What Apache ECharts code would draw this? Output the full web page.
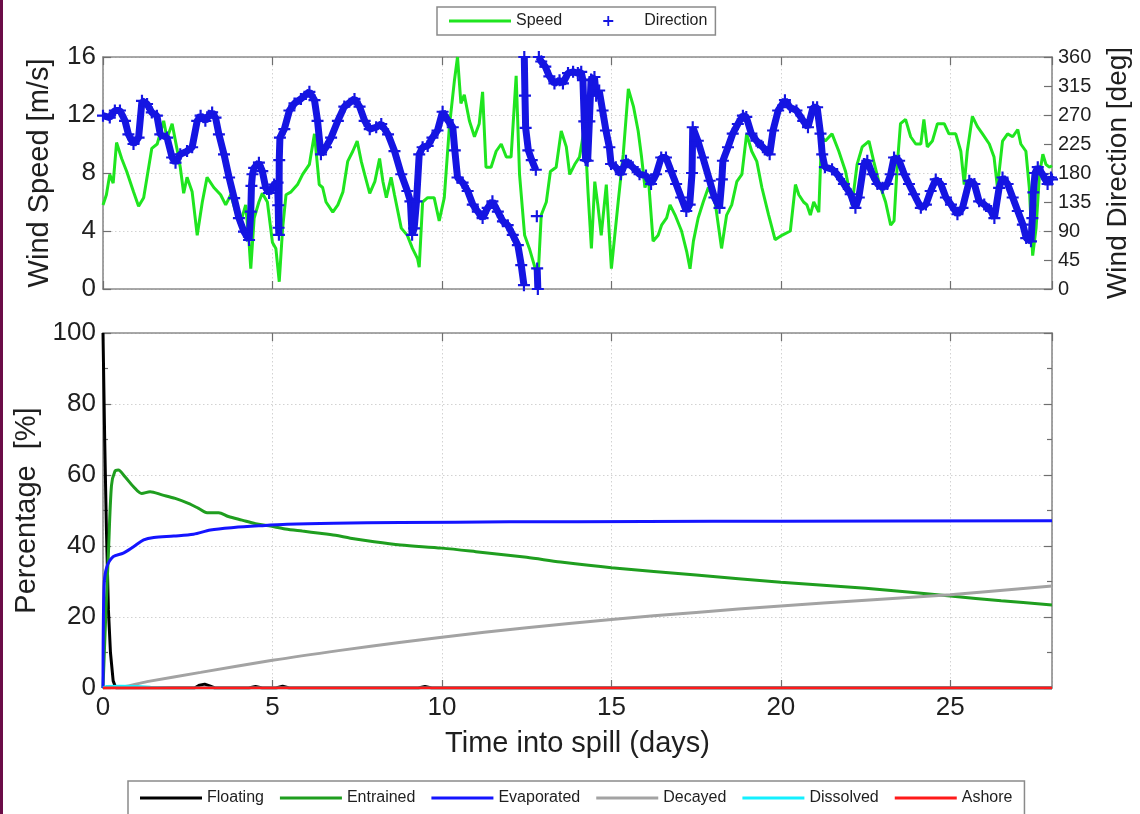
<!DOCTYPE html>
<html>
<head>
<meta charset="utf-8">
<script src="https://cdn.jsdelivr.net/npm/echarts@6.0.0/dist/echarts.min.js"></script>
<style>
  html, body { margin: 0; padding: 0; background: #ffffff; }
  #chart { width: 1140px; height: 814px; }
</style>
</head>
<body>
<div id="chart"></div>
<script>
// Wind record: [day, speed m/s]
const windSpeed = [
  [0,5.8],[0.1,6.5],[0.2,7.9],[0.3,7.3],[0.4,10.1],[0.55,9.0],[0.7,8.1],[0.9,6.7],[1.05,5.7],[1.2,6.3],
  [1.44,9.7],[1.6,10.0],[1.79,11.6],[1.89,10.4],[2.04,11.4],[2.18,9.7],[2.28,8.4],[2.38,6.6],[2.48,7.7],[2.63,6.7],
  [2.78,3.7],[2.93,6.0],[3.07,7.7],[3.27,7.0],[3.47,6.5],[3.62,5.8],[3.77,6.5],[3.92,5.3],[4.06,4.6],[4.21,5.8],
  [4.31,3.2],[4.36,1.4],[4.46,4.9],[4.6,6.0],[4.7,6.6],[4.85,6.0],[5.0,3.2],[5.1,2.8],[5.2,0.5],[5.3,4.2],
  [5.4,6.5],[5.55,6.7],[5.74,7.2],[5.89,7.9],[6.09,8.6],[6.24,10.7],[6.38,7.2],[6.48,7.0],[6.58,6.0],[6.78,5.3],
  [6.93,5.8],[7.08,6.7],[7.22,8.8],[7.37,9.5],[7.5,10.2],[7.62,8.8],[7.72,7.9],[7.87,6.6],[8.02,7.4],[8.16,9.0],
  [8.26,7.4],[8.36,6.3],[8.5,7.7],[8.6,6.5],[8.8,4.2],[8.98,3.7],[9.13,2.8],[9.28,2.1],[9.33,1.5],[9.43,6.0],
  [9.58,6.3],[9.77,6.3],[9.92,4.7],[10.07,6.3],[10.22,11.2],[10.37,14.4],[10.46,16.0],[10.56,12.8],[10.66,13.4],[10.81,11.6],
  [10.96,10.5],[11.1,11.4],[11.2,13.6],[11.3,8.4],[11.45,8.4],[11.6,9.5],[11.75,10.0],[11.9,9.1],[12.04,9.1],[12.19,14.7],
  [12.29,7.9],[12.44,3.7],[12.58,2.8],[12.73,1.6],[12.83,0.5],[12.93,5.1],[13.08,6.0],[13.2,8.1],[13.37,8.4],[13.52,10.9],
  [13.67,9.8],[13.77,7.9],[13.92,8.6],[14.06,9.1],[14.21,11.2],[14.31,6.7],[14.41,2.8],[14.51,7.4],[14.6,5.8],[14.7,3.7],
  [14.85,7.2],[15.0,1.4],[15.1,3.7],[15.2,6.0],[15.35,9.3],[15.5,13.8],[15.65,12.6],[15.79,10.9],[15.89,9.1],[15.99,7.0],
  [16.09,7.7],[16.23,3.3],[16.38,3.7],[16.48,4.4],[16.63,4.9],[16.73,5.8],[16.88,5.1],[17.07,4.0],[17.22,2.6],[17.32,1.4],
  [17.42,3.3],[17.56,4.9],[17.71,6.0],[17.86,7.0],[18.06,6.0],[18.25,2.8],[18.4,5.1],[18.55,5.8],[18.7,7.4],[18.85,7.9],
  [18.99,10.7],[19.14,9.5],[19.29,8.8],[19.44,7.0],[19.64,5.1],[19.83,3.4],[20.03,3.7],[20.28,4.0],[20.43,7.2],[20.53,6.5],
  [20.67,6.0],[20.77,5.8],[20.87,5.1],[20.97,6.0],[21.12,5.3],[21.2,10.5],[21.31,10.2],[21.51,10.7],[21.71,9.5],[21.91,8.1],
  [22.1,5.8],[22.25,8.6],[22.4,9.8],[22.6,10.2],[22.74,8.8],[22.89,7.4],[23.09,6.0],[23.24,4.4],[23.34,4.7],[23.43,8.4],
  [23.53,11.4],[23.68,11.7],[23.83,10.5],[23.98,10.0],[24.13,10.0],[24.22,11.7],[24.32,9.8],[24.47,10.2],[24.62,11.4],[24.82,11.4],
  [24.96,10.7],[25.16,10.7],[25.31,9.5],[25.41,7.2],[25.5,9.5],[25.65,11.9],[25.8,11.2],[25.95,10.7],[26.15,10.0],[26.29,9.1],
  [26.39,7.0],[26.54,10.2],[26.69,10.7],[26.84,10.5],[26.99,11.0],[27.08,10.0],[27.23,9.5],[27.33,7.0],[27.43,2.3],[27.53,4.2],
  [27.63,7.9],[27.73,9.3],[27.82,8.6],[27.92,8.4],[28.0,8.5]
];

// Wind record: [day, direction deg]; '-' breaks the trace where it wraps past north
const windDirection = [
  [0,269],[0.2,266],[0.35,277],[0.5,277],[0.65,261],[0.75,240],[0.9,225],[1.05,235],[1.15,292],[1.3,287],
  [1.44,274],[1.59,269],[1.69,240],[1.89,235],[2.04,204],[2.14,196],[2.28,209],[2.48,214],[2.63,220],[2.78,261],
  [2.88,269],[3.02,261],[3.12,269],[3.22,274],[3.32,266],[3.42,240],[3.57,209],[3.72,173],[3.87,141],[4.01,110],
  [4.16,89],[4.31,76],[4.36,120],[4.38,160],[4.41,178],[4.46,188],[4.6,196],[4.7,183],[4.8,157],[4.9,149],
  [5.05,162],[5.15,165],[5.17,130],[5.18,95],[5.19,84],[5.2,200],[5.22,235],[5.35,248],[5.5,277],[5.65,288],
  [5.84,295],[6.09,306],[6.24,293],[6.33,261],[6.43,209],[6.58,220],[6.73,235],[6.93,261],[7.12,283],[7.42,295],
  [7.57,283],[7.72,261],[7.87,248],[8.06,251],[8.21,256],[8.41,240],[8.6,214],[8.8,178],[8.98,152],[9.07,136],
  [9.12,84],[9.18,94],[9.25,136],[9.33,209],[9.43,220],[9.58,222],[9.72,235],[9.87,246],[10.02,275],[10.17,262],
  [10.32,251],[10.38,215],[10.46,173],[10.61,165],[10.76,152],[10.91,131],[11.06,120],[11.2,110],[11.35,126],[11.49,136],
  [11.65,120],[11.8,105],[11.94,99],[12.09,84],[12.24,68],[12.34,37],[12.42,6],[12.425,'-'],
  [12.43,360],[12.45,300],[12.47,250],[12.55,215],[12.65,200],[12.77,185],[12.79,'-'],
  [12.8,113],[12.805,'-'],[12.81,32],[12.83,0],[12.845,'-'],
  [12.86,360],[12.93,353],[13.05,345],[13.17,330],[13.32,319],[13.47,324],[13.57,319],[13.72,335],[13.87,337],[14.01,335],
  [14.11,337],[14.16,324],[14.2,260],[14.24,200],[14.3,199],[14.35,260],[14.4,325],[14.5,329],[14.55,300],[14.64,308],
  [14.74,277],[14.84,246],[14.94,220],[14.99,194],[15.13,189],[15.28,178],[15.43,199],[15.63,189],[15.83,178],[16.02,176],
  [16.17,163],[16.32,178],[16.47,204],[16.61,204],[16.76,183],[16.91,163],[17.06,142],[17.21,121],[17.31,131],[17.38,180],
  [17.4,251],[17.55,230],[17.7,204],[17.9,168],[18.04,142],[18.19,126],[18.26,170],[18.29,199],[18.44,220],[18.58,241],
  [18.73,256],[18.88,269],[18.98,267],[19.13,241],[19.28,230],[19.47,220],[19.67,209],[19.77,246],[19.92,277],[20.12,293],
  [20.27,282],[20.46,277],[20.66,261],[20.8,251],[20.95,282],[21.07,282],[21.17,241],[21.22,209],[21.3,189],[21.51,186],
  [21.66,178],[21.86,163],[22.06,147],[22.2,126],[22.3,142],[22.45,194],[22.55,199],[22.7,178],[22.85,163],[23.0,157],
  [23.14,163],[23.24,178],[23.34,204],[23.49,199],[23.64,178],[23.78,163],[23.93,147],[24.13,126],[24.28,131],[24.42,152],
  [24.57,170],[24.72,163],[24.87,142],[25.02,131],[25.21,116],[25.36,126],[25.56,168],[25.71,163],[25.85,136],[26.0,131],
  [26.2,121],[26.3,110],[26.44,157],[26.54,173],[26.69,163],[26.84,142],[26.99,121],[27.14,100],[27.24,79],[27.38,74],
  [27.42,110],[27.45,150],[27.5,180],[27.58,189],[27.72,178],[27.87,163],[27.97,173],[28.0,170]
];

// Oil budget: [day, percent of spilled volume]
const floating = [
  [0,100],[0.05,70],[0.1,45],[0.16,22],[0.22,10],[0.3,2],[0.38,0],[2.7,0],[2.85,0.8],[3.0,1.1],
  [3.15,0.6],[3.3,0],[4.3,0],[4.5,0.4],[4.7,0],[5.1,0],[5.3,0.5],[5.5,0],[9.3,0],[9.5,0.4],[9.7,0],[28,0]
];
const entrained = [
  [0,0],[0.08,20],[0.16,38],[0.25,57],[0.35,61],[0.45,61.4],[0.65,59.5],[0.9,56.7],[1.14,54.8],[1.39,55.3],
  [1.74,54.4],[2.13,53.4],[2.52,52],[2.82,50.6],[3.07,49.4],[3.41,49.4],[3.7,48.3],[4.1,47.3],[4.5,46.3],[4.9,45.7],
  [5.38,44.8],[5.88,44.2],[6.4,43.6],[6.86,43.0],[7.3,42.2],[8.0,41.2],[8.78,40.3],[10,39.4],[11,38.4],[12.5,36.8],
  [13.5,35.5],[15,33.9],[17.5,31.8],[20,29.8],[22.5,28.1],[25,25.9],[26.5,24.6],[28,23.4]
];
const evaporated = [
  [0,0],[0.03,28.5],[0.11,34],[0.3,37],[0.6,38],[0.9,39.8],[1.2,41.7],[1.5,42.4],[2.09,42.8],[2.67,43.3],
  [3.17,44.5],[3.86,45.2],[4.64,45.7],[5.43,46.1],[6.81,46.4],[8.78,46.6],[12,46.8],[16,46.9],[20,47.0],[28,47.1]
];
const decayed = [
  [0,0],[0.3,0],[1.3,1.8],[2.88,4.4],[5,7.8],[7,10.6],[8.8,12.9],[10,14.3],[12.5,17],[15,19.3],
  [17.5,21.3],[20,23.1],[22.5,24.7],[25,26.3],[28,28.7]
];
const dissolved = [[0,0],[0.1,0.4],[0.5,0.5],[1,0.4],[1.4,0.2],[2,0],[28,0]];
const ashore = [[0,0],[28,0]];

const speedTicks = { min: 0, max: 16, step: 4 };
const directionTicks = { min: 0, max: 360, step: 45 };
const percentTicks = { min: 0, max: 100, step: 20 };
const dayTicks = { min: 0, max: 28, step: 5 };

const FONT = '"Liberation Sans", Arial, Helvetica, sans-serif';
const TEXT = '#1f1f1f';
const FRAME = '#8c8c8c';
const DIR_BLUE = '#1515e2';
// marker drawn at every direction sample
const PLUS = 'path://M4.1,0h1.8v10h-1.8zM0,4.1h10v1.8h-10z';
// legend glyphs, each spanning a full 62x12 slot (tiny corner specks fix the box)
const SLOT = 'M0,0h0.05v0.05h-0.05zM61.95,11.95h0.05v0.05h-0.05z';
const LEGEND_BAR = 'path://' + SLOT + 'M0,4.5h62v3h-62z';
const LEGEND_PLUS = 'path://' + SLOT + 'M30.1,1h1.8v10h-1.8zM26,5.1h10v1.8h-10z';

const dotted = { show: true, lineStyle: { color: '#d2d2d2', width: 1, type: [1.5, 2.5] } };
const frameLine = { show: true, onZero: false, lineStyle: { color: FRAME, width: 1.6 } };
const innerTick = { show: true, inside: true, length: 8, lineStyle: { color: '#6f6f6f', width: 1.2 } };
const minorInner = { show: true, splitNumber: 2, length: 5, lineStyle: { color: '#6f6f6f', width: 1.2 } };
const noLabel = { show: false };

function dayAxis(grid, position, labelled) {
  return {
    gridIndex: grid, type: 'value', position: position,
    min: dayTicks.min, max: dayTicks.max, interval: dayTicks.step,
    axisLine: frameLine, axisTick: innerTick,
    splitLine: position === 'bottom' ? dotted : { show: false },
    axisLabel: labelled ? {
      show: true, fontFamily: FONT, fontSize: 26, color: TEXT, margin: 7, showMaxLabel: false
    } : noLabel,
    name: labelled ? 'Time into spill (days)' : '',
    nameLocation: 'middle', nameGap: 41,
    nameTextStyle: { fontFamily: FONT, fontSize: 29, color: TEXT }
  };
}

const legendBox = {
  orient: 'horizontal', itemWidth: 62, itemHeight: 12, symbolKeepAspect: false,
  borderColor: '#8a8a8a', borderWidth: 1.5, backgroundColor: '#ffffff',
  textStyle: { fontFamily: FONT, fontSize: 16, color: TEXT }
};

const chart = echarts.init(document.getElementById('chart'), null, { renderer: 'canvas' });

chart.setOption({
  backgroundColor: '#ffffff',
  animation: false,
  graphic: [{
    type: 'rect', left: 0, top: 0, z: 100,
    shape: { width: 3, height: 814 },
    style: { fill: '#6b0c47' }
  }],
  grid: [
    { left: 103, top: 57, width: 949, height: 232 },
    { left: 103, top: 333, width: 949, height: 355 }
  ],
  legend: [
    Object.assign({}, legendBox, {
      left: 437, top: 7, padding: [6, 8, 6, 12], itemGap: 15,
      data: [
        { name: 'Speed', icon: LEGEND_BAR },
        { name: 'Direction', icon: LEGEND_PLUS }
      ]
    }),
    Object.assign({}, legendBox, {
      left: 128, top: 781, padding: [9, 12, 9, 12], itemGap: 16,
      data: ['Floating', 'Entrained', 'Evaporated', 'Decayed', 'Dissolved', 'Ashore']
        .map(n => ({ name: n, icon: LEGEND_BAR }))
    })
  ],
  xAxis: [
    dayAxis(0, 'bottom', false),
    dayAxis(0, 'top', false),
    dayAxis(1, 'bottom', true),
    dayAxis(1, 'top', false)
  ],
  yAxis: [
    {
      gridIndex: 0, type: 'value', position: 'left',
      min: speedTicks.min, max: speedTicks.max, interval: speedTicks.step,
      axisLine: frameLine, axisTick: innerTick, splitLine: dotted,
      axisLabel: { fontFamily: FONT, fontSize: 26, color: TEXT, margin: 7 },
      name: 'Wind Speed [m/s]', nameLocation: 'middle', nameGap: 49, nameRotate: 90,
      nameTextStyle: { fontFamily: FONT, fontSize: 29, color: TEXT }
    },
    {
      gridIndex: 0, type: 'value', position: 'right',
      min: directionTicks.min, max: directionTicks.max, interval: directionTicks.step,
      axisLine: frameLine, axisTick: innerTick, splitLine: { show: false },
      axisLabel: { fontFamily: FONT, fontSize: 20, color: TEXT, margin: 6 },
      name: 'Wind Direction [deg]', nameLocation: 'middle', nameGap: 52, nameRotate: 90,
      nameTextStyle: { fontFamily: FONT, fontSize: 28, color: TEXT }
    },
    {
      gridIndex: 1, type: 'value', position: 'left',
      min: percentTicks.min, max: percentTicks.max, interval: percentTicks.step,
      axisLine: frameLine, axisTick: innerTick, splitLine: dotted, minorTick: minorInner,
      axisLabel: { fontFamily: FONT, fontSize: 26, color: TEXT, margin: 7 },
      name: 'Percentage  [%]', nameLocation: 'middle', nameGap: 62, nameRotate: 90,
      nameTextStyle: { fontFamily: FONT, fontSize: 29, color: TEXT }
    },
    {
      gridIndex: 1, type: 'value', position: 'right',
      min: percentTicks.min, max: percentTicks.max, interval: percentTicks.step,
      axisLine: frameLine, axisTick: innerTick, splitLine: { show: false }, minorTick: minorInner,
      axisLabel: noLabel
    }
  ],
  series: [
    {
      name: 'Speed', type: 'line', xAxisIndex: 0, yAxisIndex: 0,
      data: windSpeed, showSymbol: false, color: '#1fe51f',
      lineStyle: { color: '#1fe51f', width: 3 }, z: 2
    },
    {
      name: 'Direction', type: 'line', xAxisIndex: 0, yAxisIndex: 1,
      data: windDirection, connectNulls: false, clip: false,
      symbol: PLUS, symbolSize: 12, showSymbol: true, showAllSymbol: true,
      color: DIR_BLUE,
      itemStyle: { color: DIR_BLUE },
      lineStyle: { color: DIR_BLUE, width: 7 }, z: 3
    },
    {
      name: 'Floating', type: 'line', xAxisIndex: 2, yAxisIndex: 2,
      data: floating, showSymbol: false, color: '#000000',
      lineStyle: { color: '#000000', width: 3 }
    },
    {
      name: 'Entrained', type: 'line', xAxisIndex: 2, yAxisIndex: 2,
      data: entrained, showSymbol: false, smooth: 0.3, color: '#1f9e1f',
      lineStyle: { color: '#1f9e1f', width: 3 }
    },
    {
      name: 'Evaporated', type: 'line', xAxisIndex: 2, yAxisIndex: 2,
      data: evaporated, showSymbol: false, smooth: 0.3, color: '#1414ff',
      lineStyle: { color: '#1414ff', width: 3 }
    },
    {
      name: 'Decayed', type: 'line', xAxisIndex: 2, yAxisIndex: 2,
      data: decayed, showSymbol: false, smooth: 0.3, color: '#a3a3a3',
      lineStyle: { color: '#a3a3a3', width: 3 }
    },
    {
      name: 'Dissolved', type: 'line', xAxisIndex: 2, yAxisIndex: 2,
      data: dissolved, showSymbol: false, color: '#14f0ff',
      lineStyle: { color: '#14f0ff', width: 3 }
    },
    {
      name: 'Ashore', type: 'line', xAxisIndex: 2, yAxisIndex: 2,
      data: ashore, showSymbol: false, color: '#ff1a1a',
      lineStyle: { color: '#ff1a1a', width: 3 }
    }
  ]
});
</script>
</body>
</html>
